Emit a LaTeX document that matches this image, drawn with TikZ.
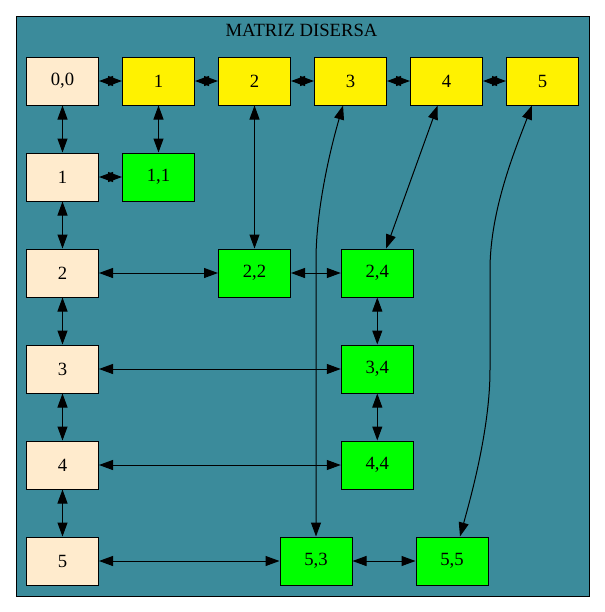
\documentclass[tikz,border=0pt]{standalone}
\usepackage{fontspec}
\setmainfont{Liberation Serif}
\usetikzlibrary{arrows.meta}
\definecolor{panel}{RGB}{59,139,155}
\definecolor{headcell}{RGB}{255,235,205}
\begin{document}
\begin{tikzpicture}[x=0.75pt,y=-0.75pt,
  cell/.style={draw=black, line width=0.75pt, minimum width=54pt, minimum height=36pt,
    inner sep=0pt, font=\fontsize{14pt}{16pt}\selectfont},
  head/.style={cell, fill=headcell},
  idx/.style={cell, fill=yellow},
  val/.style={cell, fill=green},
  link/.style={line width=0.75pt,
    {Triangle[length=10.5pt,width=7.5pt]}-{Triangle[length=10.5pt,width=7.5pt]}}]
\useasboundingbox (0,0) rectangle (605,612);
% cluster panel
\draw[fill=panel, line width=0.75pt] (16,16) rectangle (589,596);
\node[anchor=base, font=\fontsize{14pt}{16pt}\selectfont] (title) at (301.5,36) {MATRIZ DISERSA};

% header cells
\node[head] (n00) at (62.5,81) {0,0};
\node[idx] (t1) at (158.5,81) {1};
\node[idx] (t2) at (254.5,81) {2};
\node[idx] (t3) at (350.5,81) {3};
\node[idx] (t4) at (446.5,81) {4};
\node[idx] (t5) at (542.5,81) {5};
\node[head] (r1) at (62.5,177) {1};
\node[head] (r2) at (62.5,273) {2};
\node[head] (r3) at (62.5,369) {3};
\node[head] (r4) at (62.5,465) {4};
\node[head] (r5) at (62.5,561) {5};

% values
\node[val] (n11) at (158.5,177) {1,1};
\node[val] (n22) at (254.5,273) {2,2};
\node[val] (n24) at (377.3,273) {2,4};
\node[val] (n34) at (377.3,369) {3,4};
\node[val] (n44) at (377.3,465) {4,4};
\node[val] (n53) at (316,561) {5,3};
\node[val] (n55) at (452,561) {5,5};

% header links
\draw[link] (n00) -- (t1);
\draw[link] (t1) -- (t2);
\draw[link] (t2) -- (t3);
\draw[link] (t3) -- (t4);
\draw[link] (t4) -- (t5);
\draw[link] (n00) -- (r1);
\draw[link] (r1) -- (r2);
\draw[link] (r2) -- (r3);
\draw[link] (r3) -- (r4);
\draw[link] (r4) -- (r5);

% row links
\draw[link] (r1) -- (n11);
\draw[link] (r2) -- (n22);
\draw[link] (n22) -- (n24);
\draw[link] (r3) -- (n34);
\draw[link] (r4) -- (n44);
\draw[link] (r5) -- (n53);
\draw[link] (n53) -- (n55);

% column links
\draw[link] (t1) -- (n11);
\draw[link] (t2) -- (n22);
\draw[link] (t4) -- (n24);
\draw[link] (n24) -- (n34);
\draw[link] (n34) -- (n44);
\draw[link] ([xshift=-5.6pt]t3.south) .. controls (330,150) and (316,210) .. (316,260) -- (n53.north);
\draw[link] ([xshift=-7.9pt]t5.south) .. controls (515,150) and (490,210) .. (490,270)
  -- (490,370) .. controls (490,430) and (470,500) .. ([xshift=6pt]n55.north);
\end{tikzpicture}
\end{document}
